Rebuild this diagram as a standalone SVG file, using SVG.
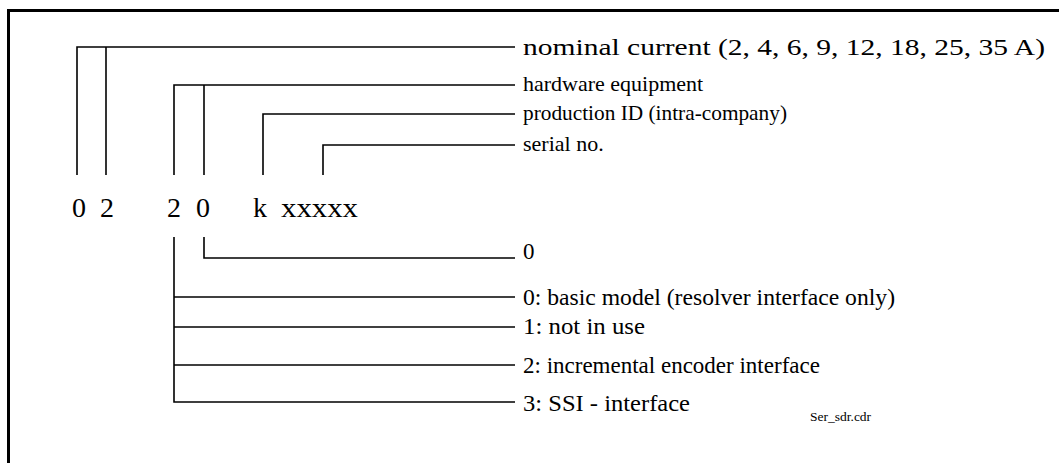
<svg xmlns="http://www.w3.org/2000/svg" width="1059" height="463" viewBox="0 0 1059 463">
  <style>
    .ln { stroke: #000; stroke-width: 1.6; fill: none; }
    .frame { stroke: #000; stroke-width: 3; fill: none; }
    .code { font-family: "Liberation Serif", "Times New Roman", serif; font-size: 28px; fill: #000; }
    .lbl { font-family: "Liberation Serif", "Times New Roman", serif; font-size: 22px; fill: #000; }
    .lbl2 { font-family: "Liberation Serif", "Times New Roman", serif; font-size: 23px; fill: #000; }
    .big { font-family: "Liberation Serif", "Times New Roman", serif; font-size: 24px; fill: #000; }
    .small { font-family: "Liberation Serif", "Times New Roman", serif; font-size: 13.5px; fill: #000; }
  </style>
  <rect width="1059" height="463" fill="#fff"/>
  <path class="frame" d="M8.5,465 V10.5 H1062"/>

  <g id="code">
    <text class="code" x="72" y="217">0</text>
    <text class="code" x="100" y="217">2</text>
    <text class="code" x="167" y="217">2</text>
    <text class="code" x="196" y="217">0</text>
    <text class="code" x="253" y="217">k</text>
    <text class="code" x="281" y="217" textLength="77" lengthAdjust="spacingAndGlyphs">xxxxx</text>
  </g>

  <g id="connectors">
    <path class="ln" d="M77,175 V47 H515"/>
    <path class="ln" d="M106,175 V47"/>
    <path class="ln" d="M174,175 V85 H515"/>
    <path class="ln" d="M204,175 V85"/>
    <path class="ln" d="M263,175 V114 H515"/>
    <path class="ln" d="M323,175 V145 H515"/>
    <path class="ln" d="M204,237 V258 H515"/>
    <path class="ln" d="M174,237 V402 H515"/>
    <path class="ln" d="M174,297 H515"/>
    <path class="ln" d="M174,327 H515"/>
    <path class="ln" d="M174,365 H515"/>
  </g>

  <g id="label-nominal"><text class="big" x="523" y="55" textLength="522" lengthAdjust="spacingAndGlyphs">nominal current (2, 4, 6, 9, 12, 18, 25, 35 A)</text></g>
  <g id="label-hardware"><text class="lbl" x="523" y="91">hardware equipment</text></g>
  <g id="label-production"><text class="lbl" x="523" y="120" textLength="264" lengthAdjust="spacingAndGlyphs">production ID (intra-company)</text></g>
  <g id="label-serial"><text class="lbl" x="523" y="151">serial no.</text></g>
  <g id="label-zero"><text class="lbl2" x="523" y="259">0</text></g>
  <g id="label-basic"><text class="lbl2" x="523" y="305" textLength="372" lengthAdjust="spacingAndGlyphs">0: basic model (resolver interface only)</text></g>
  <g id="label-notinuse"><text class="lbl2" x="523" y="334" textLength="122" lengthAdjust="spacingAndGlyphs">1: not in use</text></g>
  <g id="label-incremental"><text class="lbl2" x="523" y="373">2: incremental encoder interface</text></g>
  <g id="label-ssi"><text class="lbl2" x="523" y="411" textLength="167" lengthAdjust="spacingAndGlyphs">3: SSI - interface</text></g>
  <g id="label-file"><text class="small" x="810" y="421">Ser_sdr.cdr</text></g>
</svg>
